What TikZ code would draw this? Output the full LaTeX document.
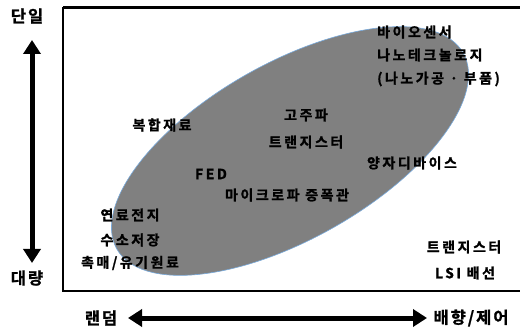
\documentclass[tikz,border=0pt]{standalone}
\usepackage{fontspec}
\usetikzlibrary{arrows.meta}
\newfontfamily\kr{Noto Sans CJK KR}[LetterSpace=18,BoldFont={* Bold},BoldFeatures={FakeBold=1.2}]
\newfontfamily\krax{Noto Sans CJK KR}[LetterSpace=12,BoldFont={* Bold},BoldFeatures={FakeBold=1.2}]
\definecolor{blobgray}{RGB}{128,128,128}
\definecolor{blobedge}{RGB}{120,170,220}
\tikzset{
  lbl/.style={inner sep=0pt, font=\kr\bfseries\fontsize{14}{16}\selectfont},
  axlbl/.style={inner sep=0pt, font=\krax\bfseries\fontsize{16.5}{19}\selectfont},
  bigarrow/.style={line width=5pt, -{Triangle[length=14pt,width=17pt]}},
  frame/.style={line width=2.5pt}
}
\begin{document}
\begin{tikzpicture}[x=1pt,y=-1pt]
\useasboundingbox (0,0) rectangle (520,334);
\fill[white] (0,0) rectangle (520,334);
% blob
\fill[blobgray, draw=blobedge, line width=0.6pt, rotate around={29.5:(290,151)}] (290,151) ellipse [x radius=199pt, y radius=88pt];
% frame
\draw[frame] (63,7.5) -- (63,291) -- (522,291);
\draw[frame] (63,7.5) -- (522,7.5);
% axes arrows
\coordinate (vc) at (32,150);
\coordinate (vt) at (32,40);
\coordinate (vb) at (32,263);
\coordinate (hc) at (278,318);
\coordinate (hl) at (128,318);
\coordinate (hr) at (427,318);
\draw[bigarrow] (vc) -- (vt);
\draw[bigarrow] (vc) -- (vb);
\draw[bigarrow] (hc) -- (hl);
\draw[bigarrow] (hc) -- (hr);
% axis labels
\node[axlbl] (single) at (27,16) {단일};
\node[axlbl] (mass) at (27,278) {대량};
\node[axlbl] (random) at (101,318) {랜덤};
\node[axlbl] (orient) at (471,318) {배향/제어};
% inner labels
\node[lbl, anchor=west] (bio) at (377,32) {바이오센서};
\node[lbl, anchor=west] (nano) at (377,55) {나노테크놀로지};
\node[lbl, anchor=west] (nanop) at (377,79) {(나노가공 · 부품)};
\node[lbl] (hf) at (306,115) {고주파};
\node[lbl] (tr1) at (306,142) {트랜지스터};
\node[lbl] (qd) at (412,163) {양자디바이스};
\node[lbl] (comp) at (162,125) {복합재료};
\node[lbl] (fed) at (211,174) {FED};
\node[lbl] (mw) at (287,195) {마이크로파 증폭관};
\node[lbl] (fc) at (130,215) {연료전지};
\node[lbl] (hs) at (130,240) {수소저장};
\node[lbl] (cat) at (130,263) {촉매/유기원료};
\node[lbl] (tr2) at (464,247) {트랜지스터};
\node[lbl] (lsi) at (465,273) {LSI 배선};
\end{tikzpicture}
\end{document}
